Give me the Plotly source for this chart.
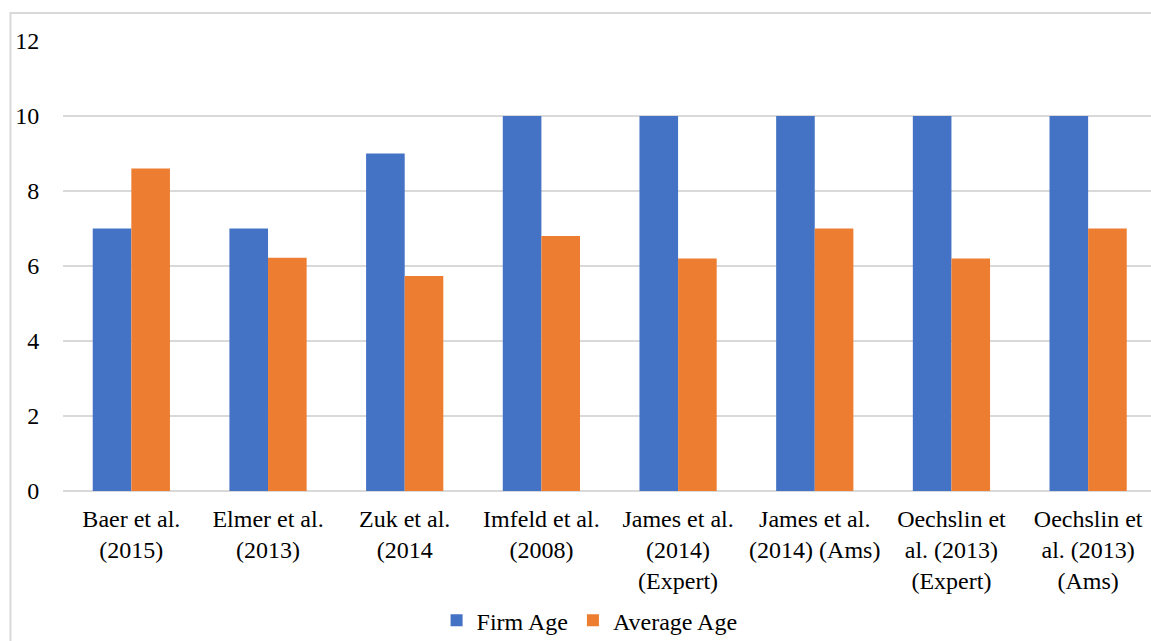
import plotly.graph_objects as go

categories = [
    "Baer et al.<br>(2015)",
    "Elmer et al.<br>(2013)",
    "Zuk et al.<br>(2014",
    "Imfeld et al.<br>(2008)",
    "James et al.<br>(2014)<br>(Expert)",
    "James et al.<br>(2014) (Ams)",
    "Oechslin et<br>al. (2013)<br>(Expert)",
    "Oechslin et<br>al. (2013)<br>(Ams)",
]
firm_age = [7, 7, 9, 10, 10, 10, 10, 10]
average_age = [8.6, 6.22, 5.73, 6.8, 6.2, 7, 6.2, 7]
y_ticks = [0, 2, 4, 6, 8, 10, 12]

FONT = "Liberation Serif, Times New Roman, serif"
GRID = "#d9d9d9"
SIZE = 24

fig = go.Figure()
fig.add_trace(go.Bar(x=list(range(len(categories))), y=firm_age, name="Firm Age",
                     marker=dict(color="#4472c4", line=dict(width=0))))
fig.add_trace(go.Bar(x=list(range(len(categories))), y=average_age, name="Average Age",
                     marker=dict(color="#ed7d31", line=dict(width=0))))

fig.update_layout(
    width=1151, height=641,
    margin=dict(l=63, r=0, t=41, b=150, autoexpand=False),
    paper_bgcolor="white", plot_bgcolor="white",
    barmode="group", bargap=0.435, bargroupgap=0,
    font=dict(family=FONT, size=SIZE, color="#000000"),
    showlegend=True,
    legend=dict(orientation="h", x=0.484, xanchor="center", y=-0.238, yanchor="top",
                font=dict(family=FONT, size=SIZE), itemwidth=30, traceorder="normal"),
    xaxis=dict(
        range=[-0.5, 7.46], automargin=False,
        tickmode="array", tickvals=list(range(len(categories))), ticktext=categories,
        showgrid=False, zeroline=False, showline=False,
        ticks="outside", ticklen=6, tickcolor="rgba(0,0,0,0)",
        tickfont=dict(family=FONT, size=SIZE),
        tickangle=0,
    ),
    yaxis=dict(
        range=[0, 12], tickmode="array", tickvals=y_ticks, automargin=False,
        showgrid=True, gridcolor=GRID, gridwidth=1.5,
        zeroline=True, zerolinecolor=GRID, zerolinewidth=2,
        showline=False,
        ticks="outside", ticklen=18, tickcolor="rgba(0,0,0,0)",
        tickfont=dict(family=FONT, size=SIZE),
    ),
    shapes=[
        dict(type="rect", xref="paper", yref="paper",
             x0=-0.0483, x1=1.02, y0=-0.4, y1=1.0622,
             line=dict(color=GRID, width=2), fillcolor="rgba(0,0,0,0)", layer="below"),
    ],
)

fig.write_html("out.html")
